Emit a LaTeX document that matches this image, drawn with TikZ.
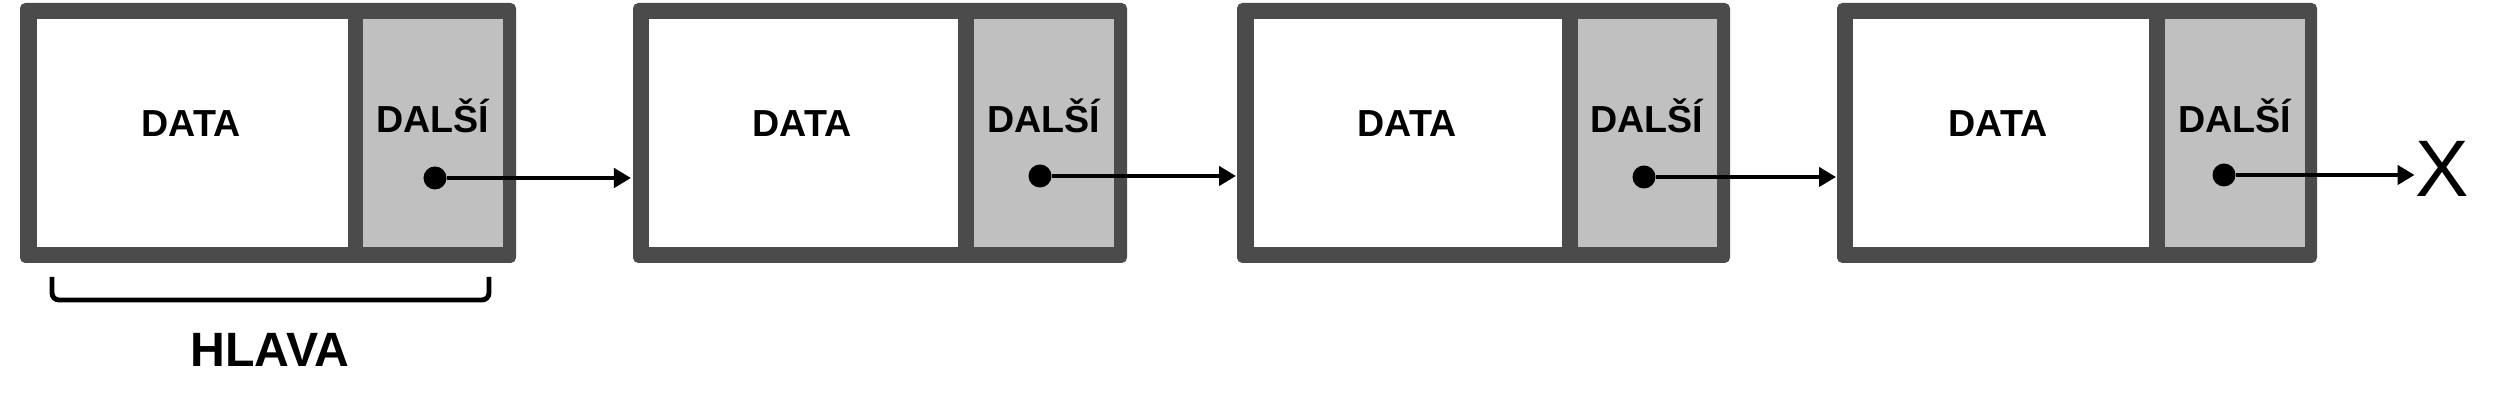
\documentclass[tikz,border=0pt]{standalone}
\usepackage{fontspec}
\setmainfont{Liberation Sans}
\usetikzlibrary{arrows.meta}

\definecolor{framegray}{HTML}{4B4B4B}
\definecolor{cellgray}{HTML}{C0C0C0}

\begin{document}
\begin{tikzpicture}[x=0.01cm, y=-0.01cm,
    frame/.style={fill=framegray, rounded corners=1.5pt},
    nextcell/.style={fill=cellgray},
    dot/.style={circle, fill=black, inner sep=0pt, minimum size=0.23cm},
    link/.style={line width=1.4pt, -{Triangle[length=0.17cm, width=0.19cm]}},
    lbl/.style={font=\bfseries\fontsize{10.7}{12}\selectfont, anchor=base}]
    \useasboundingbox (0,0) rectangle (2520,416);

    % first element (head)
    \fill[frame] (20,3) rectangle (516,263);
    \fill[white] (37,19) rectangle (348,247);
    \fill[nextcell] (363,19) rectangle (503,247);
    \node[lbl] (data1) at (191,137) {DATA};
    \node[lbl] (next1) at (433,133) {DALŠÍ};
    \node[dot] (p1) at (435,178) {};

    % second element
    \fill[frame] (633,3) rectangle (1127,263);
    \fill[white] (649,19) rectangle (958,247);
    \fill[nextcell] (974,19) rectangle (1114,247);
    \node[lbl] (data2) at (802,137) {DATA};
    \node[lbl] (next2) at (1044,133) {DALŠÍ};
    \node[dot] (p2) at (1040,176) {};
    \coordinate (in2) at (631,178);

    % third element
    \fill[frame] (1237,3) rectangle (1730,263);
    \fill[white] (1254,19) rectangle (1562,247);
    \fill[nextcell] (1578,19) rectangle (1717,247);
    \node[lbl] (data3) at (1407,137) {DATA};
    \node[lbl] (next3) at (1647,133) {DALŠÍ};
    \node[dot] (p3) at (1644,177) {};
    \coordinate (in3) at (1236,176);

    % fourth element
    \fill[frame] (1837,3) rectangle (2317,263);
    \fill[white] (1853,19) rectangle (2149,247);
    \fill[nextcell] (2165,19) rectangle (2305,247);
    \node[lbl] (data4) at (1998,137) {DATA};
    \node[lbl] (next4) at (2235,133) {DALŠÍ};
    \node[dot] (p4) at (2224,175) {};
    \coordinate (in4) at (1836,177);

    % end of list
    \node[font=\fontsize{22.8}{24}\selectfont, anchor=base, inner sep=0pt] (nil) at (2442,197) {X};

    % pointers
    \draw[link] (p1) -- (in2);
    \draw[link] (p2) -- (in3);
    \draw[link] (p3) -- (in4);
    \draw[link] (p4) -- (p4 -| nil.west);

    % head bracket
    \draw[line width=1.4pt, rounded corners=2pt] (52,277) -- (52,300) -- (489,300) -- (489,277);
    \node[font=\bfseries\fontsize{13.7}{15}\selectfont, anchor=base] (head) at (270,367) {HLAVA};
\end{tikzpicture}
\end{document}
